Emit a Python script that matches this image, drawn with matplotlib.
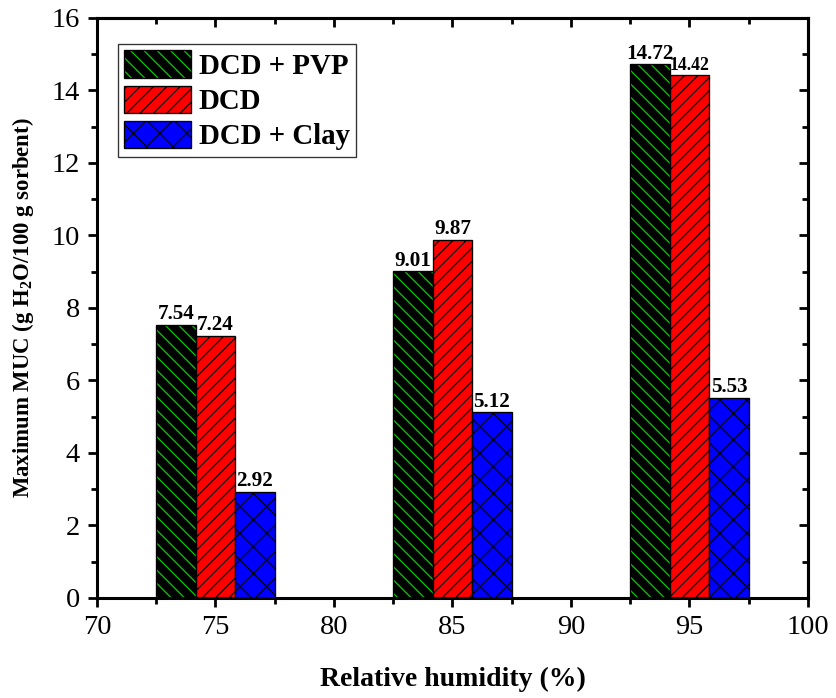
import numpy as np
import matplotlib.pyplot as plt
from matplotlib.patches import Patch
from matplotlib.ticker import MultipleLocator

plt.rcParams['font.family'] = ['Liberation Serif', 'DejaVu Serif']
plt.rcParams['mathtext.fontset'] = 'custom'
plt.rcParams['mathtext.rm'] = 'Liberation Serif'
plt.rcParams['mathtext.bf'] = 'Liberation Serif:bold'
plt.rcParams['hatch.linewidth'] = 1.1

humidity = [75, 85, 95]
series = ['DCD + PVP', 'DCD', 'DCD + Clay']
muc_pvp = [7.54, 9.01, 14.72]
muc_dcd = [7.24, 9.87, 14.42]
muc_clay = [2.92, 5.12, 5.53]

GREEN = '#00d200'
w = 5 / 3
x = np.array(humidity, dtype=float)

# dpi 80 keeps the hatch pattern at a finer pitch
fig = plt.figure(figsize=(10.45, 8.725), dpi=80)
ax = fig.add_axes([0.116, 0.1433, 0.8505, 0.831])

# green hatch on black: hatch takes the edge colour, so outline in a second pass
ax.bar(x - w, muc_pvp, w, color='black', edgecolor=GREEN, hatch='\\\\', linewidth=0)
ax.bar(x - w, muc_pvp, w, fill=False, edgecolor='black', linewidth=1.2)
ax.bar(x, muc_dcd, w, color='#ff0000', edgecolor='black', hatch='//', linewidth=1.2)
ax.bar(x + w, muc_clay, w, color='#0000ff', edgecolor='black', hatch='x', linewidth=1.2)

# value labels; the crowded DCD label at 95 % is set a bit smaller
small = {(1, 2)}
for si, (xs, vals) in enumerate([(x - w, muc_pvp), (x, muc_dcd), (x + w, muc_clay)]):
    for gi, (xi, v) in enumerate(zip(xs, vals)):
        fs = 16 if (si, gi) in small else 19
        ax.text(xi, v + 0.02, f'{v:.2f}', ha='center', va='bottom',
                fontsize=fs, fontweight='bold')

ax.set_xlim(70, 100)
ax.set_ylim(0, 16)
ax.xaxis.set_major_locator(MultipleLocator(5))
ax.xaxis.set_minor_locator(MultipleLocator(2.5))
ax.yaxis.set_major_locator(MultipleLocator(2))
ax.yaxis.set_minor_locator(MultipleLocator(1))
ax.tick_params(which='major', direction='out', length=8.5, width=2.5, labelsize=25.5, pad=7)
ax.tick_params(which='minor', direction='out', length=5, width=2.5)
for s in ax.spines.values():
    s.set_linewidth(2.75)

# mirrored ticks pointing inward on top and right
top = ax.secondary_xaxis('top')
top.xaxis.set_major_locator(MultipleLocator(5))
top.xaxis.set_minor_locator(MultipleLocator(2.5))
top.tick_params(which='major', direction='in', length=8.5, width=2.5, labeltop=False)
top.tick_params(which='minor', direction='in', length=5, width=2.5)
right = ax.secondary_yaxis('right')
right.yaxis.set_major_locator(MultipleLocator(2))
right.yaxis.set_minor_locator(MultipleLocator(1))
right.tick_params(which='major', direction='in', length=8.5, width=2.5, labelright=False)
right.tick_params(which='minor', direction='in', length=5, width=2.5)
for sec in (top, right):
    for s in sec.spines.values():
        s.set_linewidth(2.75)

ax.set_xlabel('Relative humidity (%)', fontsize=25, fontweight='bold', labelpad=24)
ax.set_ylabel('Maximum MUC (g H$_\\mathbf{2}$O/100 g sorbent)', fontsize=20.5,
              fontweight='bold', labelpad=14)

handles = [
    (Patch(facecolor='black', edgecolor=GREEN, hatch='\\\\', linewidth=0),
     Patch(fill=False, edgecolor='black', linewidth=1.2)),
    Patch(facecolor='#ff0000', edgecolor='black', hatch='//', linewidth=1.2),
    Patch(facecolor='#0000ff', edgecolor='black', hatch='x', linewidth=1.2),
]
leg = ax.legend(handles, series, loc='upper left', bbox_to_anchor=(0.0295, 0.955),
                prop={'weight': 'bold', 'size': 26}, frameon=True, fancybox=False,
                edgecolor='#333333', framealpha=1, handlelength=2.3, handleheight=1.07,
                labelspacing=0.2, handletextpad=0.28, borderpad=0.22, borderaxespad=0)
leg.get_frame().set_linewidth(1.2)

fig.savefig('out.png', dpi=80)
